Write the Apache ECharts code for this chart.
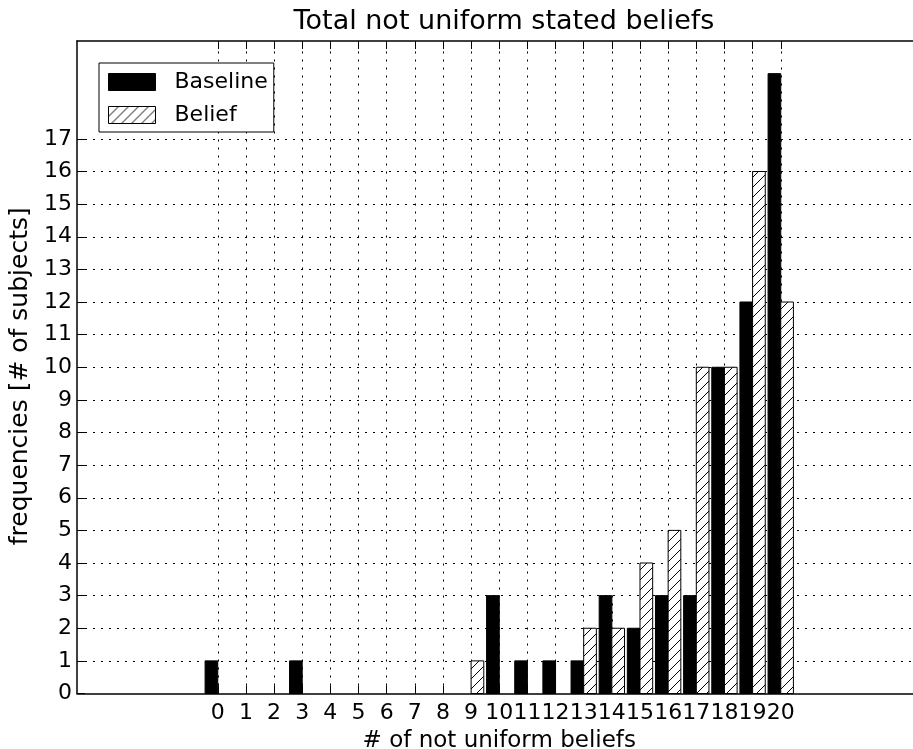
<!DOCTYPE html>
<html>
<head>
<meta charset="utf-8">
<script src="https://cdn.jsdelivr.net/npm/echarts@6/dist/echarts.min.js"></script>
<style>
html,body{margin:0;padding:0;background:#fff;}
#chart{width:913px;height:749px;}
</style>
</head>
<body>
<div id="chart"></div>
<script>
// ---- data ----
const categories = [0,1,2,3,4,5,6,7,8,9,10,11,12,13,14,15,16,17,18,19,20];
const baselineValues = [1,0,0,1,0,0,0,0,0,0,3,1,1,1,3,2,3,3,10,12,19];
const beliefValues   = [0,0,0,0,0,0,0,0,0,1,0,0,0,2,2,4,5,10,10,16,12];
const xTickValues = [0,1,2,3,4,5,6,7,8,9,10,11,12,13,14,15,16,17,18,19,20];
const yTickValues = [0,1,2,3,4,5,6,7,8,9,10,11,12,13,14,15,16,17];
const yGridValues = [1,2,3,4,5,6,7,8,9,10,11,12,13,14,15,16,17];

// ---- hatch pattern ----
const pc = document.createElement('canvas');
pc.width = 10; pc.height = 10;
const ctx = pc.getContext('2d');
ctx.fillStyle = '#fff'; ctx.fillRect(0,0,10,10);
ctx.strokeStyle = '#000'; ctx.lineWidth = 1;
ctx.beginPath();
ctx.moveTo(0,10); ctx.lineTo(10,0);
ctx.moveTo(-1,1); ctx.lineTo(1,-1);
ctx.moveTo(9,11); ctx.lineTo(11,9);
ctx.stroke();
const hatch = {image: pc, repeat: 'repeat'};

const FONT = 'DejaVu Sans';
const BAR_W = 0.45;

function makeRender(left, fill, stroke) {
  return function (params, api) {
    const x = api.value(0), y = api.value(1);
    if (!y) return null;
    const p0 = api.coord([x + (left ? -BAR_W : 0), 0]);
    const p1 = api.coord([x + (left ? 0 : BAR_W), y]);
    return {
      type: 'rect',
      shape: {x: p0[0], y: p1[1], width: p1[0] - p0[0], height: p0[1] - p1[1]},
      style: {fill: fill, stroke: stroke, lineWidth: 1}
    };
  };
}

const gridLineStyle = {type: [2, 6], color: '#000', width: 1};
const markData = xTickValues.map(v => ({xAxis: v})).concat(yGridValues.map(v => ({yAxis: v})));

const chart = echarts.init(document.getElementById('chart'), null, {renderer: 'canvas'});
chart.setOption({
  animation: false,
  backgroundColor: '#fff',
  textStyle: {fontFamily: FONT},
  title: {
    text: 'Total not uniform stated beliefs',
    left: 499, top: 3, textAlign: 'center',
    textStyle: {fontFamily: FONT, fontSize: 27, fontWeight: 'normal', color: '#000'}
  },
  legend: {
    left: 99, top: 63, orient: 'vertical',
    padding: [8, 6, 6, 9],
    itemWidth: 47, itemHeight: 17, itemGap: 11,
    backgroundColor: '#fff', borderColor: '#000', borderWidth: 1, borderRadius: 0,
    selectedMode: false,
    textStyle: {fontFamily: FONT, fontSize: 22, color: '#000', padding: [0,0,0,14]},
    data: [
      {name: 'Baseline', icon: 'rect', itemStyle: {color: '#000', borderColor: '#000', borderWidth: 1}},
      {name: 'Belief', icon: 'rect', itemStyle: {color: hatch, borderColor: '#000', borderWidth: 1}}
    ]
  },
  grid: {left: 77, top: 41, width: 844.5, height: 652.5, containLabel: false, outerBoundsMode: 'none'},
  xAxis: [{
    type: 'value', min: -5, max: 25, position: 'bottom',
    name: '# of not uniform beliefs', nameLocation: 'middle', nameGap: 30,
    nameTextStyle: {fontFamily: FONT, fontSize: 23, color: '#000'},
    axisLine: {show: true, onZero: false, lineStyle: {color: '#000', width: 1.5}},
    axisTick: {show: true, inside: true, length: 8, customValues: xTickValues, lineStyle: {color: '#000', width: 1}},
    axisLabel: {show: true, customValues: xTickValues, margin: 9, fontFamily: FONT, fontSize: 22, color: '#000'},
    splitLine: {show: false}
  }, {
    type: 'value', min: -5, max: 25, position: 'top',
    axisLine: {show: true, onZero: false, lineStyle: {color: '#000', width: 1.5}},
    axisTick: {show: true, inside: true, length: 8, customValues: xTickValues, lineStyle: {color: '#000', width: 1}},
    axisLabel: {show: false},
    splitLine: {show: false}
  }],
  yAxis: {
    type: 'value', min: 0, max: 20,
    name: 'frequencies [# of subjects]', nameLocation: 'middle', nameGap: 40, nameRotate: 90,
    nameTextStyle: {fontFamily: FONT, fontSize: 25, color: '#000', padding: [0, 18, 0, 0]},
    axisLine: {show: true, onZero: false, lineStyle: {color: '#000', width: 1.5}},
    axisTick: {show: true, inside: true, length: 8, customValues: yTickValues, lineStyle: {color: '#000', width: 1}},
    axisLabel: {show: true, customValues: yTickValues, margin: 5, fontFamily: FONT, fontSize: 22, color: '#000'},
    splitLine: {show: false}
  },
  series: [{
    name: 'Baseline', type: 'custom', xAxisIndex: 0, z: 3,
    itemStyle: {color: '#000'},
    encode: {x: 0, y: 1},
    data: categories.map((c, i) => [c, baselineValues[i]]),
    renderItem: makeRender(true, '#000', '#000'),
    markLine: {
      silent: true, z: 1, symbol: ['none', 'none'], animation: false,
      label: {show: false}, lineStyle: gridLineStyle,
      emphasis: {disabled: true},
      data: markData
    }
  }, {
    name: 'Belief', type: 'custom', xAxisIndex: 0, z: 3,
    itemStyle: {color: '#fff'},
    encode: {x: 0, y: 1},
    data: categories.map((c, i) => [c, beliefValues[i]]),
    renderItem: makeRender(false, hatch, '#000')
  }]
});
</script>
</body>
</html>
